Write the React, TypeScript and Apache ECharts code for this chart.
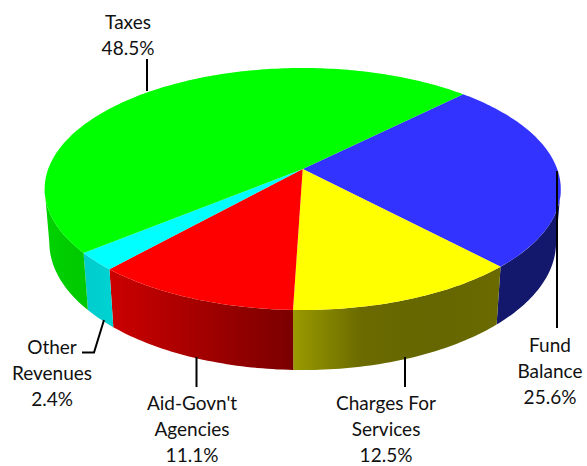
import React, { useEffect, useRef } from "react";
import * as echarts from "echarts";

// Budget shares, clockwise from the blue wedge at the upper right
const categories = ["Fund\nBalance", "Charges For\nServices", "Aid-Govn't\nAgencies", "Other\nRevenues", "Taxes"];
const shares = [25.6, 12.5, 11.1, 2.4, 48.5];
const topColors = ["#3333ff", "#ffff00", "#ff0000", "#00ffff", "#00ff00"];
// Wall shading per wedge, listed left to right on screen
const sideStops = [
  ["#14186c", "#14186c"],
  ["#9a9a00", "#6a6a00", "#666600", "#6a6a00"],
  ["#cc0000", "#7a0000"],
  ["#00cccc", "#00d2d2"],
  ["#00d200", "#00c800"],
];

// Perspective model of the disc: apex on screen, radii and foreshortening
const APEX_X = 302.7;
const APEX_Y = 169;
const RADIUS_X = 254.5;
const RADIUS_Y = 117.7;
const TILT = 0.1653;
const DEPTH_SCALE = 0.018;
const DEPTH_Y = 53.7;
const START_DEG = -45.2;
// The wall is visible between the two points where the rim turns back
const TANGENT_DEG = (Math.asin(TILT) * 180) / Math.PI;
const SIDE_FROM = TANGENT_DEG;
const SIDE_TO = 180 - TANGENT_DEG;

// h = 0 is the top face, h = 1 the bottom rim
function project(deg: number, radius: number, h: number): number[] {
  const t = (deg * Math.PI) / 180;
  const u = radius * Math.cos(t);
  const v = radius * Math.sin(t);
  const w = 1 - TILT * v + DEPTH_SCALE * h;
  return [APEX_X + (RADIUS_X * u) / w, APEX_Y + (RADIUS_Y * v + DEPTH_Y * h) / w];
}

function arcPoints(from: number, to: number, h: number): number[][] {
  const pts: number[][] = [];
  const steps = Math.max(2, Math.ceil(Math.abs(to - from)));
  for (let i = 0; i <= steps; i++) pts.push(project(from + ((to - from) * i) / steps, 1, h));
  return pts;
}

const total = shares.reduce((a, b) => a + b, 0);
const wedges = shares.map((value, i) => {
  const before = shares.slice(0, i).reduce((a, b) => a + b, 0);
  return {
    from: START_DEG + (before / total) * 360,
    to: START_DEG + ((before + value) / total) * 360,
  };
});

function sidePolygon(i: number) {
  const from = Math.max(wedges[i].from, SIDE_FROM);
  const to = Math.min(wedges[i].to, SIDE_TO);
  if (to <= from) return { type: "group", children: [] };
  const colors = sideStops[i];
  const points = [...arcPoints(from, to, 0), ...arcPoints(to, from, 1)];
  const xs = points.map((p) => p[0]);
  const fill = new echarts.graphic.LinearGradient(
    Math.min(...xs),
    0,
    Math.max(...xs),
    0,
    colors.map((color, k) => ({ offset: k / (colors.length - 1), color })),
    true,
  );
  return { type: "polygon", shape: { points }, style: { fill } };
}

function topPolygon(i: number) {
  const points = [[APEX_X, APEX_Y], ...arcPoints(wedges[i].from, wedges[i].to, 0)];
  return { type: "polygon", shape: { points }, style: { fill: topColors[i] } };
}

const labelText = (i: number) => `${categories[i]}\n${shares[i].toFixed(1)}%`;

// Label anchors (horizontal centre, top) and their leader lines
const labelSpots = [
  { x: 550, y: 331, line: [[557, 171], [557, 328]] },
  { x: 386, y: 389, line: [[405, 357], [405, 387]] },
  { x: 192, y: 389, line: [[196.5, 357], [196.5, 387]] },
  { x: 52, y: 333, line: [[104, 320], [94, 352.5], [82, 352.5]] },
  { x: 128, y: 8, line: [[147, 59], [147, 91]] },
];

export default function App() {
  const ref = useRef<HTMLDivElement>(null);
  useEffect(() => {
    const chart = echarts.init(ref.current!, undefined, { renderer: "svg" });
    const indices = shares.map((_, i) => [i]);
    chart.setOption({
      animation: false,
      backgroundColor: "#ffffff",
      series: [
        {
          type: "custom",
          coordinateSystem: "none",
          data: indices,
          z: 1,
          silent: true,
          renderItem: (params: any) => sidePolygon(params.dataIndex),
        },
        {
          type: "custom",
          coordinateSystem: "none",
          data: indices,
          z: 2,
          silent: true,
          renderItem: (params: any) => topPolygon(params.dataIndex),
        },
      ],
      graphic: labelSpots.flatMap((spot, i) => [
        {
          type: "polyline",
          z: 10,
          shape: { points: spot.line },
          style: { stroke: "#000000", lineWidth: 2, fill: "none" },
        },
        {
          type: "text",
          z: 10,
          x: spot.x,
          y: spot.y,
          style: {
            text: labelText(i),
            fill: "#111111",
            font: '19px Lato, "Open Sans", sans-serif',
            lineHeight: 26,
            align: "center",
            verticalAlign: "top",
          },
        },
      ]),
    });
    return () => chart.dispose();
  }, []);
  return <div ref={ref} style={{ position: "fixed", left: 0, top: 0, width: 587, height: 466 }} />;
}
